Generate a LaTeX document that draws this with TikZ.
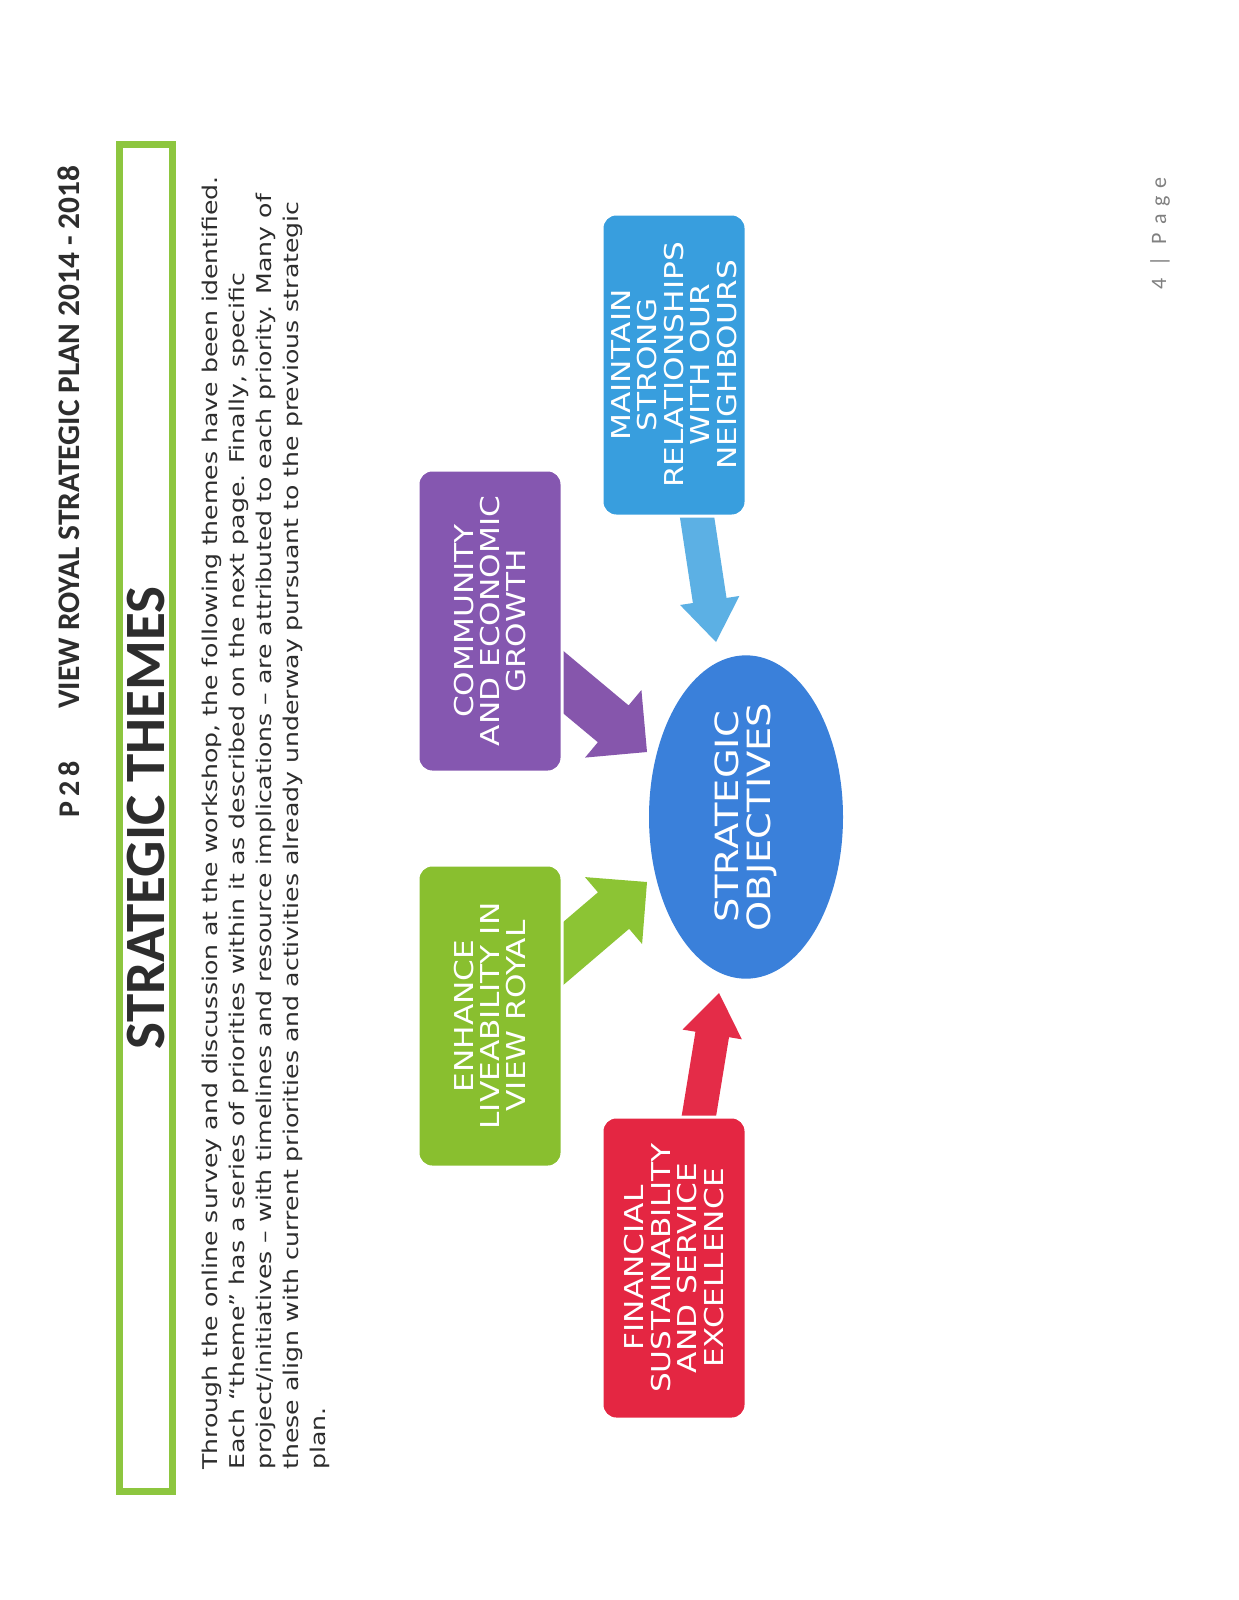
\documentclass[tikz,border=0pt]{standalone}
\usepackage{fontspec}
\setmainfont{Carlito}
\newfontfamily\widesans[FakeStretch=1.2]{DejaVu Sans}
\newfontfamily\bodysans[FakeStretch=1.24]{DejaVu Sans}
\usetikzlibrary{calc,shapes.geometric}

\definecolor{framegreen}{RGB}{141,198,63}
\definecolor{themegreen}{RGB}{137,191,47}
\definecolor{themepurple}{RGB}{133,87,176}
\definecolor{themeblue}{RGB}{56,158,222}
\definecolor{themered}{RGB}{228,38,66}
\definecolor{goalblue}{RGB}{58,128,218}
\definecolor{greenarrow}{RGB}{140,196,52}
\definecolor{purplearrow}{RGB}{134,86,172}
\definecolor{bluearrow}{RGB}{92,176,228}
\definecolor{redarrow}{RGB}{228,44,72}
\definecolor{inkgray}{RGB}{45,45,45}

\pgfdeclarelayer{back}
\pgfsetlayers{back,main}

% block arrow: colour, from, tip, half shaft, half head, head length
\newcommand{\themearrow}[6]{%
  \path ($(#3)!#6!(#2)$) coordinate (head-base);
  \fill[#1] ($(#2)!#4!90:(#3)$) -- ($(head-base)!#4!90:(#3)$) -- ($(head-base)!#5!90:(#3)$) -- (#3)
    -- ($(head-base)!#5!-90:(#3)$) -- ($(head-base)!#4!-90:(#3)$) -- ($(#2)!#4!-90:(#3)$) -- cycle;
}

\tikzset{
  upright/.style={rotate=90, inner sep=0pt},
  theme/.style={upright, rounded corners=7pt, minimum width=151pt, minimum height=72pt,
    draw=white, line width=1.5pt, text=white, align=center,
    font=\widesans\fontsize{13}{13.2}\selectfont},
}

\begin{document}
\begin{tikzpicture}[x=0.5pt,y=-0.5pt]
\useasboundingbox (0,0) rectangle (1238,1600);
\begin{pgfonlayer}{back}
\fill[white] (0,0) rectangle (1238,1600);
\end{pgfonlayer}

% page header
\node[upright, anchor=base west, text=inkgray, font=\bfseries\fontsize{15}{18}\selectfont] (pnum) at (79,818) {P\,2\,8};
\node[upright, anchor=base west, text=inkgray, font=\bfseries\fontsize{15.7}{18}\selectfont] (plan) at (79,709) {VIEW ROYAL STRATEGIC PLAN 2014 - 2018};

% title frame
\node[upright, draw=framegreen, line width=3.5pt, minimum width=673.5pt, minimum height=26.5pt,
  text=inkgray, font=\bfseries\fontsize{28.5}{30}\selectfont] (themes) at (146,818) {STRATEGIC THEMES};

% intro text
\node[upright, anchor=base west, text=inkgray, font=\bodysans\fontsize{10.15}{13.5}\selectfont] (intro) at (217,1470)
{\begin{tabular}[t]{@{}l@{}}
Through the online survey and discussion at the workshop, the following themes have been identified.\\
Each “theme” has a series of priorities within it as described on the next page. Finally, specific\\
project/initiatives – with timelines and resource implications – are attributed to each priority. Many of\\
these align with current priorities and activities already underway pursuant to the previous strategic\\
plan.
\end{tabular}};

% themes
\node[theme, fill=themegreen] (liveab) at (490,1016) {ENHANCE\\LIVEABILITY IN\\VIEW ROYAL};
\node[theme, fill=themepurple] (growth) at (490,621) {COMMUNITY\\AND ECONOMIC\\GROWTH};
\node[theme, fill=themeblue] (neigh) at (674,365) {MAINTAIN\\STRONG\\RELATIONSHIPS\\WITH OUR\\NEIGHBOURS};
\node[theme, fill=themered] (finance) at (674,1268) {FINANCIAL\\SUSTAINABILITY\\AND SERVICE\\EXCELLENCE};
\node[upright, ellipse, fill=goalblue, minimum width=161pt, minimum height=97pt, text=white, align=center,
  font=\widesans\fontsize{16}{16}\selectfont] (goal) at (746,817) {STRATEGIC\\OBJECTIVES};

\coordinate (tip-liveab) at (647,882);
\coordinate (tip-growth) at (647,752);
\coordinate (tip-neigh) at (716,642);
\coordinate (tip-finance) at (719,993);
\begin{pgfonlayer}{back}
\themearrow{greenarrow}{liveab.center}{tip-liveab}{12pt}{22pt}{22pt}
\themearrow{purplearrow}{growth.center}{tip-growth}{12pt}{22pt}{22pt}
\themearrow{bluearrow}{neigh.center}{tip-neigh}{8.5pt}{15pt}{21pt}
\themearrow{redarrow}{finance.center}{tip-finance}{8.5pt}{15pt}{21pt}
\end{pgfonlayer}

% footer
\node[upright, anchor=base west, text=gray, font=\fontsize{11}{13}\selectfont] (pageno) at (1166,290) {4\hspace{6pt}|\hspace{6pt}P\hspace{4pt}a\hspace{4pt}g\hspace{4pt}e};
\end{tikzpicture}
\end{document}
